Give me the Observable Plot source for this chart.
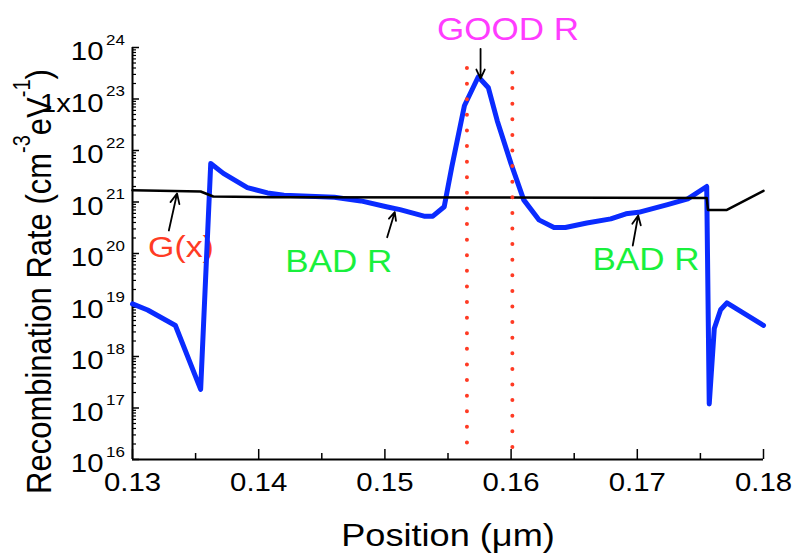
<!DOCTYPE html>
<html><head><meta charset="utf-8">
<script src="https://cdn.jsdelivr.net/npm/d3@7"></script>
<script src="https://cdn.jsdelivr.net/npm/@observablehq/plot@0.6"></script>
<style>body{margin:0;background:#fff}</style>
</head><body><div id="chart"></div>
<script>
// Recombination rate R (blue)
const rX = [0.1300,0.1312,0.1334,0.1354,0.1362,0.1372,0.1391,0.1407,0.1420,0.1460,0.1481,0.1502,0.1512,0.1531,0.1538,0.1547,0.1553,0.1563,0.1574,0.1582,0.1589,0.1600,0.1610,0.1622,0.1634,0.1643,0.1660,0.1679,0.1691,0.1701,0.1724,0.1740,0.1755,0.1757,0.1761,0.1766,0.1771,0.1800];
const rVal = [1.05e19,8.0e18,4.0e18,2.3e17,5.6e21,3.6e21,1.9e21,1.5e21,1.35e21,1.24e21,1.05e21,8.0e20,7.1e20,5.3e20,5.3e20,8.1e20,4.8e21,7.4e22,2.7e23,1.65e23,3.8e22,5.5e21,1.1e21,4.5e20,3.2e20,3.2e20,3.9e20,4.7e20,5.9e20,6.3e20,8.9e20,1.15e21,2.0e21,1.2e17,3.5e18,8.1e18,1.1e19,4.0e18];
// Generation G(x) (black)
const gX = [0.1300,0.1354,0.1364,0.1410,0.1755,0.1756,0.1771,0.1800];
const gVal = [1.7e21,1.6e21,1.28e21,1.24e21,1.2e21,7.0e20,7.0e20,1.65e21];
// red dotted markers
const markerX = [0.1565,0.1601];
const markerTop = [3.9e23,3.2e23];
const markerBottom = [2.0e16,1.6e16];
// ticks
const xTicks = [0.13,0.14,0.15,0.16,0.17,0.18];
const xTickLabels = ["0.13","0.14","0.15","0.16","0.17","0.18"];
const xMinorTicks = [0.135,0.145,0.155,0.165,0.175];
const yTicks = [1e16,1e17,1e18,1e19,1e20,1e21,1e22,1e23,1e24];
const yTickBase = ["10","10","10","10","10","10","10","1x10","10"];
const yTickExp = ["16","17","18","19","20","21","22","23","24"];
const yMinorTicks = [];
for (let d = 16; d < 24; d++) for (let k = 2; k <= 9; k++) yMinorTicks.push(k * Math.pow(10, d));
// titles
const xTitle = "Position (\u03bcm)";
const yTitleParts = ["Recombination Rate (cm", "-3", "eV", "-1", ")"];
const yTitle = yTitleParts.join("");
// annotations
const labelText = ["GOOD R","BAD R","BAD R","G(x)"];
const labelX = [0.15976,0.14635,0.17069,0.13384];
const labelY = [1.37e24,4.34e19,4.68e19,8.7e19];
const labelColor = ["#ff3cff","#19f03c","#19f03c","#ff3b24"];
const labelSize = [31,31,31,30];
const arrowX1 = [0.15758,0.13288,0.15018,0.16964];
const arrowY1 = [9.44e23,2.8e20,2.07e20,1.43e20];
const arrowX2 = [0.15758,0.13353,0.15078,0.17007];
const arrowY2 = [2.5e23,1.46e21,6.34e20,5.47e20];

const FONT = "'Liberation Sans', Arial, Helvetica, sans-serif";
const W = 794, H = 555, ML = 132, MR = 31, MT = 47, MB = 96;
const plotW = W - ML - MR, plotH = H - MT - MB;

const rData = rX.map((x, i) => ({x, v: rVal[i]}));
const gData = gX.map((x, i) => ({x, v: gVal[i]}));
const markers = markerX.map((x, i) => ({x, y1: markerTop[i], y2: markerBottom[i]}));
const arrowIdx = arrowX1.map((_, i) => i);

const svg = Plot.plot({
  width: W, height: H,
  marginLeft: ML, marginRight: MR, marginTop: MT, marginBottom: MB,
  x: {domain: [0.13, 0.18], axis: null},
  y: {type: "log", domain: [1e16, 1e24], axis: null},
  style: {fontFamily: FONT, background: "white", color: "black"},
  marks: [
    // annotation labels (under the curves)
    ...labelText.map((t, i) => Plot.text([i], {
      x: () => labelX[i], y: () => labelY[i], text: () => t,
      fill: labelColor[i], fontSize: labelSize[i], lineAnchor: "bottom", fontFamily: FONT
    })),
    // axes lines
    Plot.ruleX([0.13], {stroke: "black", strokeWidth: 2}),
    Plot.ruleY([1e16], {stroke: "black", strokeWidth: 2}),
    // inward ticks
    Plot.tickY(yTicks, {y: d => d, stroke: "black", strokeWidth: 1.5, insetRight: plotW - 7}),
    Plot.tickY(yMinorTicks, {y: d => d, stroke: "black", strokeWidth: 1.2, insetRight: plotW - 4}),
    Plot.tickX(xTicks, {x: d => d, stroke: "black", strokeWidth: 1.5, insetTop: plotH - 10}),
    Plot.tickX(xMinorTicks, {x: d => d, stroke: "black", strokeWidth: 1.5, insetTop: plotH - 6}),
    // tick labels
    Plot.text(yTicks, {y: d => d, text: (d, i) => yTickBase[i], frameAnchor: "left", textAnchor: "end",
      lineAnchor: "bottom", dx: -29, dy: 12.5, fontSize: 26, fill: "black", fontFamily: FONT}),
    Plot.text(yTicks, {y: d => d, text: (d, i) => yTickExp[i], frameAnchor: "left", textAnchor: "start",
      lineAnchor: "bottom", dx: -26.5, dy: -3, fontSize: 15, fill: "black", fontFamily: FONT}),
    Plot.text(xTicks, {x: d => d, text: (d, i) => xTickLabels[i], frameAnchor: "bottom",
      lineAnchor: "bottom", dy: 31, fontSize: 26, fill: "black", fontFamily: FONT}),
    // axis titles
    Plot.text([xTitle], {text: d => d, frameAnchor: "bottom", lineAnchor: "bottom", dy: 86,
      fontSize: 32, fill: "black", fontFamily: FONT}),
    Plot.text([yTitle], {text: d => d, frameAnchor: "left", textAnchor: "middle", rotate: -90, lineAnchor: "bottom",
      dx: -82, dy: 28, fontSize: 31, fill: "black", fontFamily: FONT}),
    // data
    Plot.line(rData, {x: "x", y: "v", stroke: "#0a2bff", strokeWidth: 5, strokeLinejoin: "round", strokeLinecap: "round"}),
    Plot.line(gData, {x: "x", y: "v", stroke: "black", strokeWidth: 2.5, strokeLinejoin: "round"}),
    Plot.ruleX(markers, {x: "x", y1: "y1", y2: "y2", stroke: "#ff3b24", strokeWidth: 4,
      strokeDasharray: "0 15.6", strokeLinecap: "round"}),
    Plot.arrow(arrowIdx, {x1: i => arrowX1[i], y1: i => arrowY1[i], x2: i => arrowX2[i], y2: i => arrowY2[i],
      stroke: "black", strokeWidth: 1.8, headLength: 9, headAngle: 50})
  ]
});
document.getElementById("chart").append(svg);

// superscripts in the y title
svg.querySelectorAll("text").forEach(t => {
  if (t.textContent === yTitle) {
    while (t.firstChild) t.removeChild(t.firstChild);
    const NS = "http://www.w3.org/2000/svg";
    yTitleParts.forEach((p, i) => {
      const ts = document.createElementNS(NS, "tspan");
      ts.textContent = p;
      if (i % 2 === 1) { ts.setAttribute("font-size", "20"); ts.setAttribute("dy", "-18"); }
      else if (i > 0) { ts.setAttribute("dy", "18"); }
      t.appendChild(ts);
    });
  }
});

// horizontal stretch of glyphs, as in the reference
svg.querySelectorAll("text").forEach(t => {
  const tr = t.getAttribute("transform") || "";
  if (tr.includes("rotate")) {
    t.setAttribute("transform", `${tr} scale(1,1.15)`);
    return;
  }
  const b = t.getBBox();
  const anchor = getComputedStyle(t).textAnchor;
  const ax = anchor === "middle" ? b.x + b.width / 2 : anchor === "end" ? b.x + b.width : b.x;
  t.setAttribute("transform", `${tr} translate(${ax},0) scale(1.13,1) translate(${-ax},0)`);
});
</script>
</body></html>
